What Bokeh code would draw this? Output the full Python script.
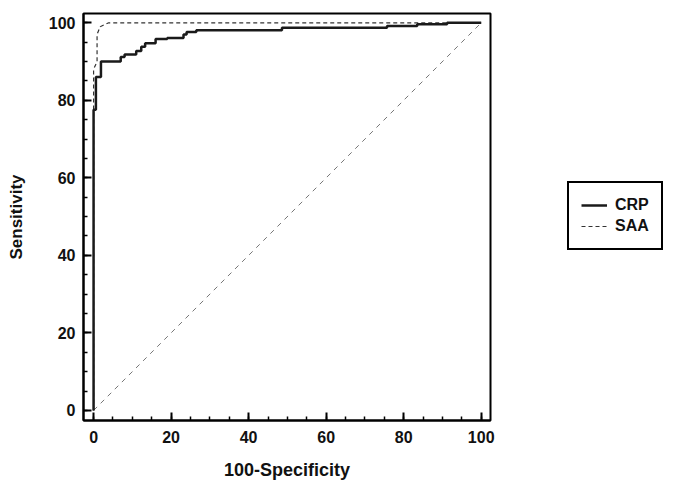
from bokeh.plotting import figure
from bokeh.models import Range1d, SingleIntervalTicker, Legend, LegendItem
from bokeh.embed import file_html
from bokeh.resources import INLINE

# ROC data (100-Specificity, Sensitivity)
crp_fpr = [0, 0, 0.6, 1.9, 7.0, 8.0, 11.0, 12.3, 13.3, 16.0, 19.0, 23.2, 24.0, 26.5, 48.6, 75.7, 83.5, 91.2, 100]
crp_tpr = [0, 77.6, 86.0, 90.0, 91.2, 91.8, 92.7, 93.8, 94.7, 95.8, 96.1, 97.0, 97.6, 98.1, 98.7, 99.2, 99.6, 100, 100]

saa_fpr = [0, 0, 0.9, 0.9, 1.7, 3.9, 100]
saa_tpr = [0, 88, 90, 97, 99, 100, 100]

ref_x = [0, 100]
ref_y = [0, 100]

x_label = "100-Specificity"
y_label = "Sensitivity"
series_names = ["CRP", "SAA"]

FONT = "Liberation Sans"

p = figure(
    output_backend="svg", toolbar_location=None,
    frame_width=407, frame_height=407,
    min_border_left=83, min_border_top=13, min_border_right=177, min_border_bottom=71,
    x_range=Range1d(-2.6, 102.4), y_range=Range1d(-2.6, 102.4),
)
p.background_fill_color = "white"
p.border_fill_color = "white"
p.outline_line_color = "black"
p.outline_line_width = 2
p.xgrid.visible = False
p.ygrid.visible = False

for ax in (p.xaxis[0], p.yaxis[0]):
    ax.ticker = SingleIntervalTicker(interval=20, num_minor_ticks=4)
    ax.axis_line_color = "black"
    ax.axis_line_width = 2
    ax.major_tick_in = 8
    ax.major_tick_out = 0
    ax.minor_tick_in = 4
    ax.minor_tick_out = 0
    ax.major_tick_line_width = 2
    ax.minor_tick_line_width = 1.5
    ax.major_tick_line_color = "black"
    ax.minor_tick_line_color = "black"
    ax.major_label_text_font = FONT
    ax.major_label_text_font_style = "bold"
    ax.major_label_text_font_size = "16px"
    ax.major_label_text_color = "#111111"
    ax.axis_label_text_font = FONT
    ax.axis_label_text_font_style = "bold"
    ax.axis_label_text_color = "#111111"

p.xaxis.axis_label = x_label
p.yaxis.axis_label = y_label
p.xaxis.axis_label_text_font_size = "18px"
p.yaxis.axis_label_text_font_size = "17px"
p.xaxis.major_label_standoff = 10
p.yaxis.major_label_standoff = 8
p.xaxis.axis_label_standoff = 14
p.yaxis.axis_label_standoff = 20

p.line(ref_x, ref_y, line_color="#777777", line_width=1, line_dash="5 5")
r_saa = p.line(saa_fpr, saa_tpr, line_color="#333333", line_width=1.2, line_dash="4 3")
r_crp = p.step(crp_fpr, crp_tpr, mode="after", line_color="#1a1a1a", line_width=2.5)

legend = Legend(
    items=[LegendItem(label=series_names[0], renderers=[r_crp]),
           LegendItem(label=series_names[1], renderers=[r_saa])],
    location=(77, 170),
    border_line_color="black", border_line_width=2, border_line_alpha=1.0,
    background_fill_color="white", background_fill_alpha=1,
    label_text_font=FONT, label_text_font_style="bold", label_text_font_size="16px",
    label_text_color="#111111",
    glyph_width=26, glyph_height=20, label_height=20, label_standoff=8,
    padding=12, spacing=1, margin=0,
)
p.add_layout(legend, "right")

open("out.html", "w").write(file_html(p, INLINE))
